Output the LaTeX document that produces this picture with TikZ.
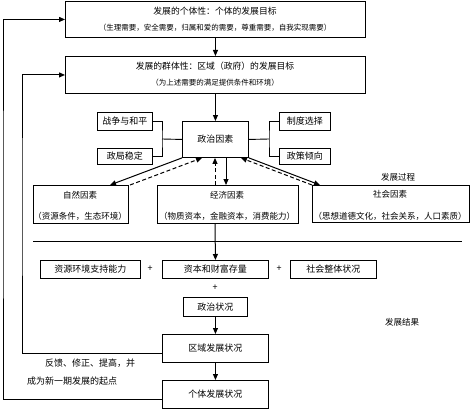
\documentclass[tikz,border=0pt]{standalone}
\usepackage{fontspec}
\newfontfamily\cjk{Noto Sans CJK SC}
\usetikzlibrary{arrows.meta,calc}
\begin{document}
\begin{tikzpicture}[x=1pt,y=-1pt,
  font=\cjk\fontsize{9}{10}\selectfont,
  box/.style={draw, line width=0.9pt, inner sep=0pt, anchor=north west},
  lbl/.style={inner sep=0pt},
  fac/.style={lbl, font=\cjk\fontsize{8.5}{10}\selectfont},
  big/.style={lbl, font=\cjk\fontsize{8.8}{10}\selectfont},
  small/.style={lbl, font=\cjk\fontsize{7.5}{9}\selectfont},
  arr/.style={-{Triangle[length=6pt,width=5pt]}, line width=1pt},
  darr/.style={arr, dashed, dash pattern=on 4pt off 2.5pt},
  ln/.style={line width=0.9pt}]
\useasboundingbox (0,0) rectangle (473,409);

% top boxes
\node[box, minimum width=300pt, minimum height=36pt] (top) at (65,1) {};
\node[big] (t1) at (215,11) {发展的个体性：个体的发展目标};
\node[small] (t2) at (215,28) {（生理需要，安全需要，归属和爱的需要，尊重需要，自我实现需要）};

\node[box, minimum width=300pt, minimum height=37pt] (group) at (65,56) {};
\node[big] (g1) at (215,66) {发展的群体性：区域（政府）的发展目标};
\node[small] (g2) at (215,83) {（为上述需要的满足提供条件和环境）};

\draw[arr] (top.south) -- (group.north);

% political factor and side boxes
\node[box, minimum width=66pt, minimum height=36pt] (pol) at (182,121) {};
\node[lbl] at (pol.center) {政治因素};
\draw[arr] (group.south) -- (pol.north);

\node[box, minimum width=55pt, minimum height=18pt] (war) at (97,112) {};
\node[lbl] at (war.center) {战争与和平};
\node[box, minimum width=55pt, minimum height=16pt] (stab) at (97,148) {};
\node[lbl] at (stab.center) {政局稳定};
\node[box, minimum width=51pt, minimum height=18pt] (inst) at (279,112) {};
\node[lbl] at (inst.center) {制度选择};
\node[box, minimum width=51pt, minimum height=16pt] (policy) at (279,148) {};
\node[lbl] at (policy.center) {政策倾向};

\coordinate (lb) at (162,139);
\coordinate (rb) at (269,139);
\draw[ln] (war.east) -| (lb) |- (stab.east);
\draw[ln] (lb) -- (pol.west);
\draw[ln] (inst.west) -| (rb) |- (policy.west);
\draw[ln] (rb) -- (pol.east);

% factor boxes
\node[box, minimum width=95pt, minimum height=38pt] (nat) at (33,185) {};
\node[fac] at (80,195) {自然因素};
\node[fac] at (80,216) {（资源条件，生态环境）};

\node[box, minimum width=141pt, minimum height=38pt] (econ) at (157,185) {};
\node[fac] at (227,195) {经济因素};
\node[fac] at (227,216) {（物质资本，金融资本，消费能力）};

\node[box, minimum width=157pt, minimum height=37pt] (soc) at (312,185) {};
\node[fac] at (390,194) {社会因素};
\node[fac] at (390,216) {（思想道德文化，社会关系，人口素质）};

\node[fac] (proc) at (398,177) {发展过程};

% arrows between political and factors
\draw[arr] (pol.south west) -- ([xshift=77pt]nat.north west);
\draw[darr] ([xshift=97pt]nat.north west) -- ([xshift=20pt]pol.south west);
\draw[darr] ([xshift=58pt]econ.north west) -- ([xshift=33pt]pol.south west);
\draw[arr] ([xshift=44pt]pol.south west) -- ([xshift=69pt]econ.north west);
\draw[arr] (pol.south east) -- ([xshift=8pt]soc.north west);
\draw[darr] (soc.north west) -- ([xshift=-8pt]pol.south east);

% separator line
\coordinate (h1) at (33,241);
\coordinate (h2) at (462,241);
\draw[line width=1pt] (h1) -- (h2);

% result boxes
\node[box, minimum width=100pt, minimum height=18pt] (res) at (40,260) {};
\node[lbl] at (res.center) {资源环境支持能力};
\node[box, minimum width=106pt, minimum height=18pt] (cap) at (162,260) {};
\node[lbl] at (cap.center) {资本和财富存量};
\node[box, minimum width=86pt, minimum height=18pt] (socst) at (290,260) {};
\node[lbl] at (socst.center) {社会整体状况};
\node[lbl] (p1) at (150,269) {+};
\node[lbl] (p2) at (279,269) {+};
\node[lbl] (p3) at (215,288) {+};
\node[box, minimum width=64pt, minimum height=19pt] (polst) at (183,297) {};
\node[lbl] at (polst.center) {政治状况};

\draw[arr] ([xshift=58pt]econ.south west) -- (cap.north);

\node[fac] (result) at (402,322) {发展结果};

\node[box, minimum width=106pt, minimum height=28pt] (region) at (162,334) {};
\node[lbl] at (region.center) {区域发展状况};
\node[box, minimum width=106pt, minimum height=28pt] (indiv) at (162,380) {};
\node[lbl] at (indiv.center) {个体发展状况};

\draw[arr] (polst.south) -- (region.north);
\draw[arr] (region.south) -- (indiv.north);

% feedback
\coordinate (fb1) at (22,200);
\coordinate (fb2) at (3,200);
\draw[arr] ([yshift=-5pt]region.west) -| (fb1) |- (group.west);
\draw[arr] ([yshift=-5pt]indiv.west) -| (fb2) |- (top.west);
\node[lbl] (fbt1) at (90,363) {反馈、修正、提高，并};
\node[lbl] (fbt2) at (72,381) {成为新一期发展的起点};
\end{tikzpicture}
\end{document}
